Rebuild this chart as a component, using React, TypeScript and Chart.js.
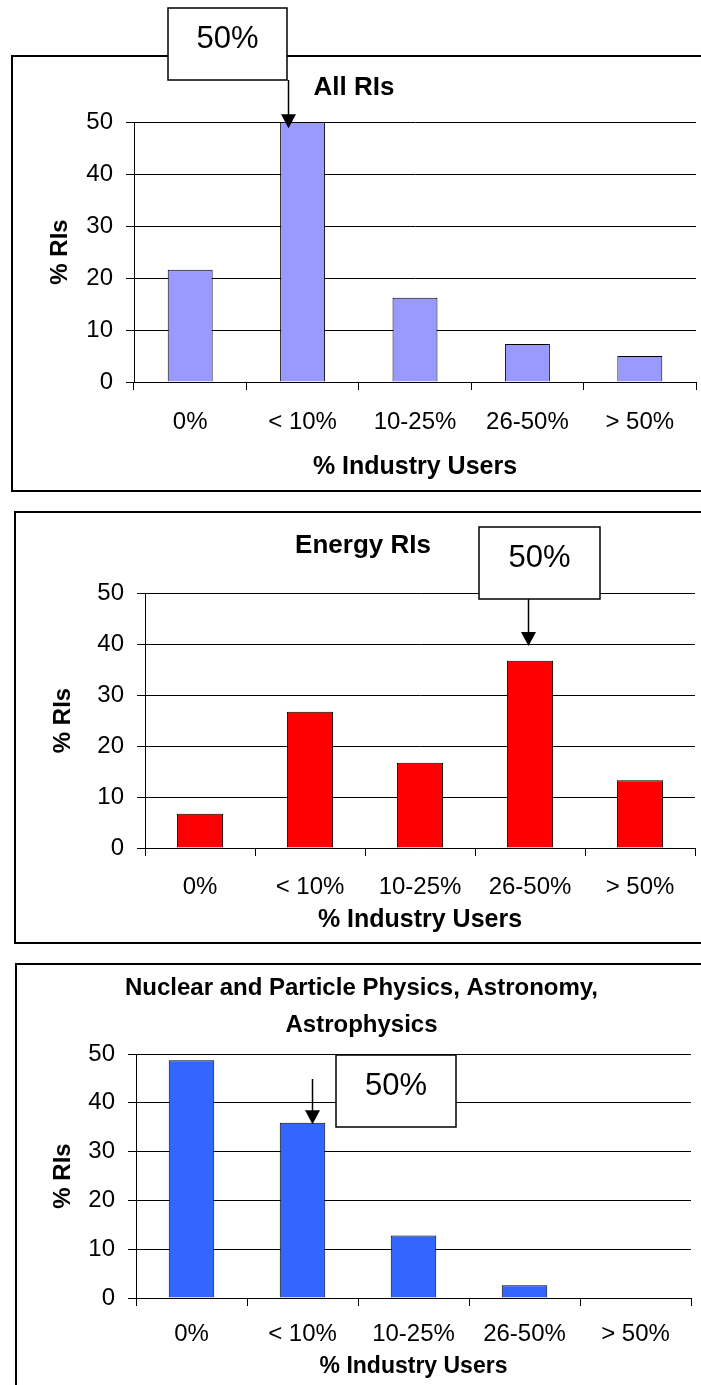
import React, { useEffect, useRef } from 'react';
import { Chart, registerables } from 'chart.js';

Chart.register(...registerables);

// ---- data ----
const categories = ['0%', '< 10%', '10-25%', '26-50%', '> 50%'];
const allRIs = [21.6, 50.0, 16.2, 7.3, 5.0];
const energyRIs = [6.7, 26.7, 16.7, 36.7, 13.3];
const physicsRIs = [48.7, 35.9, 12.8, 2.6, 0];
const yMin = 0;
const yMax = 50;
const yStep = 10;
const titleAll = 'All RIs';
const titleEnergy = 'Energy RIs';
const titlePhysics = ['Nuclear and Particle Physics, Astronomy,', 'Astrophysics'];
const xAxisTitle = '% Industry Users';
const yAxisTitle = '% RIs';
const noteText = '50%';

const FONT = '"Liberation Sans", Arial, Helvetica, sans-serif';

type Note = { box: [number, number, number, number]; cat: number; dx: number; fromY: number; tip: number };
type Panel = {
  top: number;
  height: number;
  title: string | string[];
  titleSize: number;
  titleLH: number;
  titlePad: { top: number; bottom: number };
  values: number[];
  color: string;
  barPct: number;
  padLeft: number;
  padRight: number;
  yWidth: number;
  xHeight: number;
  yTitlePad: number;
  xTickPad: number;
  xTitleSize: number;
  xTitlePadBottom: number;
  frame: [number, number, number, number];
  note: Note;
};

const panels: Panel[] = [
  {
    top: 0, height: 500, title: titleAll, titleSize: 26, titleLH: 1.2,
    titlePad: { top: 72.4, bottom: 18.4 },
    values: allRIs, color: '#9999FF', barPct: 0.4,
    padLeft: 12, padRight: 5, yWidth: 122, xHeight: 118,
    yTitlePad: 33.6, xTickPad: 17.6, xTitleSize: 25, xTitlePadBottom: 18,
    frame: [12, 56, 720, 435],
    note: { box: [168, 8, 119, 72], cat: 1, dx: -15, fromY: 80, tip: 48.8 },
  },
  {
    top: 500, height: 460, title: titleEnergy, titleSize: 26, titleLH: 1.2,
    titlePad: { top: 30.4, bottom: 31.4 },
    values: energyRIs, color: '#FF0000', barPct: 0.42,
    padLeft: 31, padRight: 6, yWidth: 114, xHeight: 112,
    yTitlePad: 17.6, xTickPad: 17.1, xTitleSize: 25, xTitlePadBottom: 25,
    frame: [15, 12, 720, 431],
    note: { box: [479, 27, 121, 72], cat: 3, dx: -2, fromY: 99, tip: 39.6 },
  },
  {
    top: 960, height: 425, title: titlePhysics, titleSize: 24, titleLH: 37 / 24,
    titlePad: { top: 9.5, bottom: 10.5 },
    values: physicsRIs, color: '#3366FF', barPct: 0.41,
    padLeft: 32, padRight: 10, yWidth: 104, xHeight: 87,
    yTitlePad: 16.6, xTickPad: 14.1, xTitleSize: 23, xTitlePadBottom: 4.2,
    frame: [16, 4, 720, 600],
    note: { box: [336, 95, 120, 72], cat: 1, dx: 9.5, fromY: 119, tip: 35.6 },
  },
];

function makeDecor(p: Panel) {
  return {
    id: 'decor',
    beforeDraw(chart: any) {
      const ctx = chart.ctx;
      ctx.save();
      ctx.strokeStyle = '#000';
      ctx.lineWidth = 2;
      const [x, y, w, h] = p.frame;
      ctx.strokeRect(x, y, w, h);
      ctx.restore();
    },
    afterDraw(chart: any) {
      const ctx = chart.ctx;
      const n = p.note;
      const xs = chart.scales.x;
      const ys = chart.scales.y;
      const ax = Math.round(xs.getPixelForValue(n.cat) + n.dx) + 0.5;
      const tipY = ys.getPixelForValue(n.tip);
      ctx.save();
      // box
      const [bx, by, bw, bh] = n.box;
      ctx.fillStyle = '#fff';
      ctx.fillRect(bx, by, bw, bh);
      ctx.strokeStyle = '#000';
      ctx.lineWidth = 1.5;
      ctx.strokeRect(bx, by, bw, bh);
      ctx.fillStyle = '#000';
      ctx.font = `31px ${FONT}`;
      ctx.textAlign = 'center';
      ctx.textBaseline = 'middle';
      ctx.fillText(noteText, bx + bw / 2, by + 31);
      // arrow
      const head = 14;
      ctx.beginPath();
      ctx.moveTo(ax, n.fromY);
      ctx.lineTo(ax, tipY - head + 1);
      ctx.lineWidth = 1.5;
      ctx.stroke();
      ctx.beginPath();
      ctx.moveTo(ax - 7.5, tipY - head);
      ctx.lineTo(ax + 7.5, tipY - head);
      ctx.lineTo(ax, tipY);
      ctx.closePath();
      ctx.fill();
      ctx.restore();
    },
  };
}

function PanelChart({ p }: { p: Panel }) {
  const ref = useRef<HTMLCanvasElement | null>(null);
  useEffect(() => {
    if (!ref.current) return;
    const chart = new Chart(ref.current, {
      type: 'bar',
      data: {
        labels: categories,
        datasets: [
          {
            data: p.values,
            backgroundColor: p.color,
            borderColor: '#000',
            borderWidth: 1,
            categoryPercentage: 1,
            barPercentage: p.barPct,
          },
        ],
      },
      options: {
        responsive: false,
        maintainAspectRatio: false,
        animation: false,
        devicePixelRatio: 1,
        layout: { padding: { left: p.padLeft, right: p.padRight, top: 0, bottom: 0 } },
        plugins: {
          legend: { display: false },
          tooltip: { enabled: false },
          title: {
            display: true,
            text: p.title,
            color: '#000',
            font: { family: FONT, size: p.titleSize, weight: 'bold', lineHeight: p.titleLH },
            padding: p.titlePad,
          },
        },
        scales: {
          x: {
            type: 'category',
            offset: true,
            afterFit: (s: any) => { s.height = p.xHeight; },
            grid: { display: true, drawOnChartArea: false, drawTicks: true, tickLength: 8, color: '#000' },
            border: { display: true, color: '#000', width: 1 },
            ticks: {
              color: '#000',
              font: { family: FONT, size: 24 },
              padding: p.xTickPad,
              maxRotation: 0,
              autoSkip: false,
            },
            title: {
              display: true,
              text: xAxisTitle,
              color: '#000',
              font: { family: FONT, size: p.xTitleSize, weight: 'bold' },
              padding: { top: 0, bottom: p.xTitlePadBottom },
            },
          },
          y: {
            min: yMin,
            max: yMax,
            afterFit: (s: any) => { s.width = p.yWidth; },
            grid: { color: '#000', tickLength: 8, drawTicks: true },
            border: { display: true, color: '#000', width: 1 },
            ticks: {
              stepSize: yStep,
              color: '#000',
              font: { family: FONT, size: 24 },
              padding: 13,
            },
            title: {
              display: true,
              text: yAxisTitle,
              color: '#000',
              font: { family: FONT, size: 24, weight: 'bold' },
              padding: { top: p.yTitlePad, bottom: 0 },
            },
          },
        },
      },
      plugins: [makeDecor(p)],
    } as any);
    return () => chart.destroy();
  }, [p]);
  return (
    <canvas
      ref={ref}
      width={701}
      height={p.height}
      style={{ position: 'absolute', left: 0, top: p.top, width: 701, height: p.height }}
    />
  );
}

export default function App() {
  return (
    <div style={{ position: 'absolute', left: 0, top: 0, width: 701, height: 1385, overflow: 'hidden', background: '#fff' }}>
      {panels.map((p, i) => (
        <PanelChart key={i} p={p} />
      ))}
    </div>
  );
}
